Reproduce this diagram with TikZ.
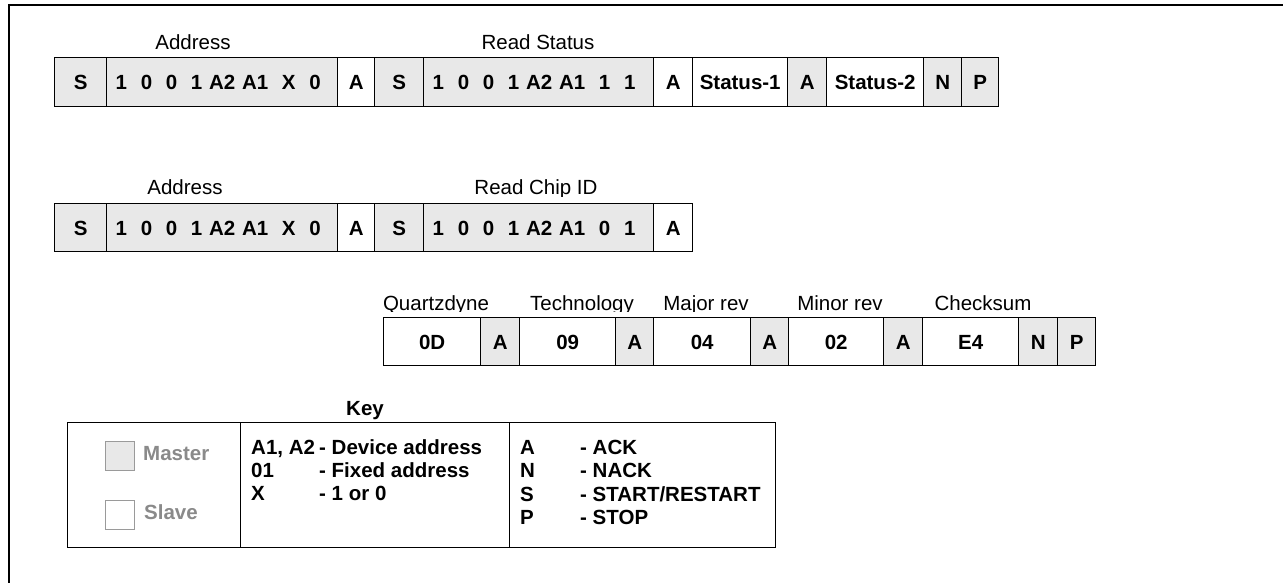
\documentclass[tikz,border=0pt]{standalone}
\usepackage{fontspec}
\setmainfont{Liberation Sans}
\begin{document}
\begin{tikzpicture}[x=1pt,y=-1pt,
  cellfont/.style={font=\fontsize{20.5}{24}\selectfont\bfseries},
  cell/.style={draw=black, line width=1.4pt, inner xsep=0pt, inner ysep=0pt,
     anchor=north west, cellfont, text height=14.8pt, text depth=0pt},
  mcell/.style={cell, fill=mgray},
  scell/.style={cell, fill=white},
  bits/.style={align=left, inner xsep=9pt},
  lbl/.style={anchor=base, font=\fontsize{20.5}{24}\selectfont, inner sep=0pt},
  keyt/.style={anchor=base west, cellfont, inner sep=0pt},
  legbox/.style={draw=lgray, line width=1.4pt, minimum width=29pt, minimum height=29pt, inner sep=0pt, anchor=north west},
  legt/.style={anchor=base west, cellfont, text=ltext, inner sep=0pt},
  kcell/.style={draw=black, line width=1.4pt, anchor=north west, minimum height=125pt, inner sep=0pt}
]
\definecolor{mgray}{HTML}{E8E8E8}
\definecolor{lgray}{HTML}{9A9A9A}
\definecolor{ltext}{HTML}{8A8A8A}
\useasboundingbox (0,0) rectangle (1283,583);
\fill[white] (0,0) rectangle (1283,583);
% frame
\draw[line width=2pt] (9,583) -- (9,4.7) -- (1283,4.7);

% ---------- Row 1 ----------
\node[lbl] (l1a) at (193,49.5) {Address};
\node[lbl] (l1b) at (538,49.5) {Read Status};
\node[mcell, minimum width=52pt, minimum height=49pt] (r1c1) at (54,57) {S};
\node[mcell, bits, text width=213pt, minimum height=49pt] (r1c2) at (106,57) {1\ \ 0\ \ 0\ \ 1 A2 A1\ \ X\ \ 0};
\node[scell, minimum width=37pt, minimum height=49pt] (r1c3) at (337,57) {A};
\node[mcell, minimum width=49pt, minimum height=49pt] (r1c4) at (374,57) {S};
\node[mcell, bits, text width=212pt, minimum height=49pt] (r1c5) at (423,57) {1\ \ 0\ \ 0\ \ 1 A2 A1\ \ 1\ \ 1};
\node[scell, minimum width=39pt, minimum height=49pt] (r1c6) at (653,57) {A};
\node[scell, minimum width=95pt, minimum height=49pt] (r1c7) at (692,57) {Status-1};
\node[mcell, minimum width=39pt, minimum height=49pt] (r1c8) at (787,57) {A};
\node[scell, minimum width=97pt, minimum height=49pt] (r1c9) at (826,57) {Status-2};
\node[mcell, minimum width=38pt, minimum height=49pt] (r1c10) at (923,57) {N};
\node[mcell, minimum width=37pt, minimum height=49pt] (r1c11) at (961,57) {P};

% ---------- Row 2 ----------
\begin{scope}
\clip (0,150) rectangle (1283,196);
\node[lbl] (l2a) at (185,194) {Address};
\node[lbl] (l2b) at (536,194) {Read Chip ID};
\end{scope}
\node[mcell, minimum width=52pt, minimum height=48pt] (r2c1) at (54,203) {S};
\node[mcell, bits, text width=213pt, minimum height=48pt] (r2c2) at (106,203) {1\ \ 0\ \ 0\ \ 1 A2 A1\ \ X\ \ 0};
\node[scell, minimum width=37pt, minimum height=48pt] (r2c3) at (337,203) {A};
\node[mcell, minimum width=49pt, minimum height=48pt] (r2c4) at (374,203) {S};
\node[mcell, bits, text width=212pt, minimum height=48pt] (r2c5) at (423,203) {1\ \ 0\ \ 0\ \ 1 A2 A1\ \ 0\ \ 1};
\node[scell, minimum width=39pt, minimum height=48pt] (r2c6) at (653,203) {A};

% ---------- Row 3 ----------
\begin{scope}
\clip (0,270) rectangle (1283,311.5);
\node[lbl] (l3a) at (436,310) {Quartzdyne};
\node[lbl] (l3b) at (582,310) {Technology};
\node[lbl] (l3c) at (706,310) {Major rev};
\node[lbl] (l3d) at (840,310) {Minor rev};
\node[lbl] (l3e) at (983,310) {Checksum};
\end{scope}
\node[scell, minimum width=97pt, minimum height=48pt] (r3c1) at (383,317) {0D};
\node[mcell, minimum width=39pt, minimum height=48pt] (r3c2) at (480,317) {A};
\node[scell, minimum width=96pt, minimum height=48pt] (r3c3) at (519,317) {09};
\node[mcell, minimum width=38pt, minimum height=48pt] (r3c4) at (615,317) {A};
\node[scell, minimum width=97pt, minimum height=48pt] (r3c5) at (653,317) {04};
\node[mcell, minimum width=38pt, minimum height=48pt] (r3c6) at (750,317) {A};
\node[scell, minimum width=95pt, minimum height=48pt] (r3c7) at (788,317) {02};
\node[mcell, minimum width=39pt, minimum height=48pt] (r3c8) at (883,317) {A};
\node[scell, minimum width=96pt, minimum height=48pt] (r3c9) at (922,317) {E4};
\node[mcell, minimum width=39pt, minimum height=48pt] (r3c10) at (1018,317) {N};
\node[mcell, minimum width=38pt, minimum height=48pt] (r3c11) at (1057,317) {P};

% ---------- Key ----------
\node[anchor=base, cellfont, inner sep=0pt] (keytitle) at (365,415) {Key};
\node[kcell, minimum width=173pt] (k1) at (67,422) {};
\node[kcell, minimum width=269pt] (k2) at (240,422) {};
\node[kcell, minimum width=266pt] (k3) at (509,422) {};

\node[legbox, fill=mgray] (mbox) at (105,441) {};
\node[legbox, fill=white] (sbox) at (105,500) {};
\node[legt] (mtxt) at (143,460.5) {Master};
\node[legt] (stxt) at (144,519.5) {Slave};

\node[keyt] (k2a) at (251,454.5) {\makebox[68pt][l]{A1, A2}- Device address};
\node[keyt] (k2b) at (251,477.5) {\makebox[68pt][l]{01}- Fixed address};
\node[keyt] (k2c) at (251,500.5) {\makebox[68pt][l]{X}- 1 or 0};

\node[keyt] (k3a) at (520,454) {\makebox[60pt][l]{A}- ACK};
\node[keyt] (k3b) at (520,477.5) {\makebox[60pt][l]{N}- NACK};
\node[keyt] (k3c) at (520,501) {\makebox[60pt][l]{S}- START/RESTART};
\node[keyt] (k3d) at (520,524.5) {\makebox[60pt][l]{P}- STOP};
\end{tikzpicture}
\end{document}
